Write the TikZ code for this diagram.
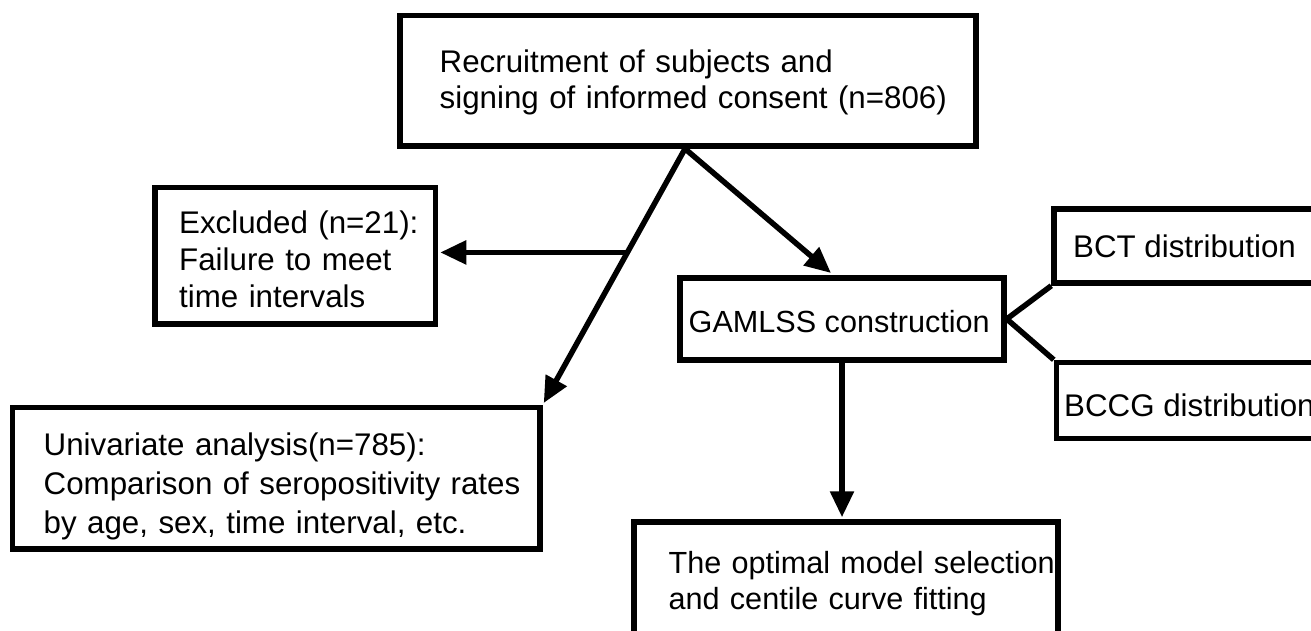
\documentclass[tikz,border=0pt]{standalone}
\usepackage{fontspec}
\setmainfont{Liberation Sans}
\usetikzlibrary{arrows.meta,calc}
\hyphenpenalty=10000
\exhyphenpenalty=10000
\begin{document}
\begin{tikzpicture}[x=1pt,y=-1pt,
  box/.style={draw, line width=5.5pt, inner sep=0pt, rectangle},
  txt/.style={inner sep=0pt, align=left, anchor=base west},
  fs/.style={font=\fontsize{31.3}{#1}\selectfont},
  fsb/.style={font=\fontsize{30.6}{#1}\selectfont},
  arr/.style={line width=5.5pt, -{Triangle[length=26pt,width=23pt]}, shorten >=2pt},
  link/.style={line width=5.5pt}]
\useasboundingbox (0,0) rectangle (1311,630);
\clip (0,0) rectangle (1311,630);
% boxes
\node[box, minimum width=576pt, minimum height=130.5pt] (top) at (688,80.75) {};
\node[box, minimum width=280.5pt, minimum height=136.5pt] (excl) at (295.25,255.75) {};
\node[box, minimum width=527.5pt, minimum height=141.5pt] (univ) at (276.25,478.25) {};
\node[box, minimum width=324pt, minimum height=82pt] (gamlss) at (842,319) {};
\node[box, minimum width=300pt, minimum height=74pt] (bct) at (1204,246) {};
\node[box, minimum width=300pt, minimum height=76pt] (bccg) at (1206.5,400.5) {};
\node[box, minimum width=424pt, minimum height=180pt] (opt) at (846,612) {};
% texts
\node[txt, fs=35.6, text width=520pt] (toptext) at (439.5,72.7)
  {Recruitment of subjects and\\signing of informed consent (n=806)};
\node[txt, fs=37, text width=255pt] (excltext) at (179,233)
  {Excluded (n=21):\\Failure to meet\\time intervals};
\node[txt, fs=39, text width=490pt] (univtext) at (43.5,455)
  {Univariate analysis(n=785):\\Comparison of seropositivity rates\\by age, sex, time interval, etc.};
\node[txt, fsb=36] (gamlsstext) at (688.5,332) {GAMLSS construction};
\node[txt, fs=36] (bcttext) at (1073,257) {BCT distribution};
\node[txt, fs=36] (bccgtext) at (1064,416.7) {BCCG distribution};
\node[txt, fsb=36.7, text width=420pt] (opttext) at (668.5,573)
  {The optimal model selection\\and centile curve fitting};
% connectors
\coordinate (J) at ($(top.south)+(-3,0)$);
\coordinate (K) at ($(J)!0.405!(univ.north east)$);
\coordinate (gtip) at (831,273);
\draw[arr] (J) -- (univ.north east);
\draw[arr] (K) -- (K -| excl.east);
\draw[arr, shorten >=0pt] (J) -- (gtip);
\draw[arr] (gamlss.south) -- (gamlss.south |- opt.north);
\draw[link] (gamlss.east) -- (bct.south west);
\draw[link] (gamlss.east) -- (bccg.north west);
\end{tikzpicture}
\end{document}
